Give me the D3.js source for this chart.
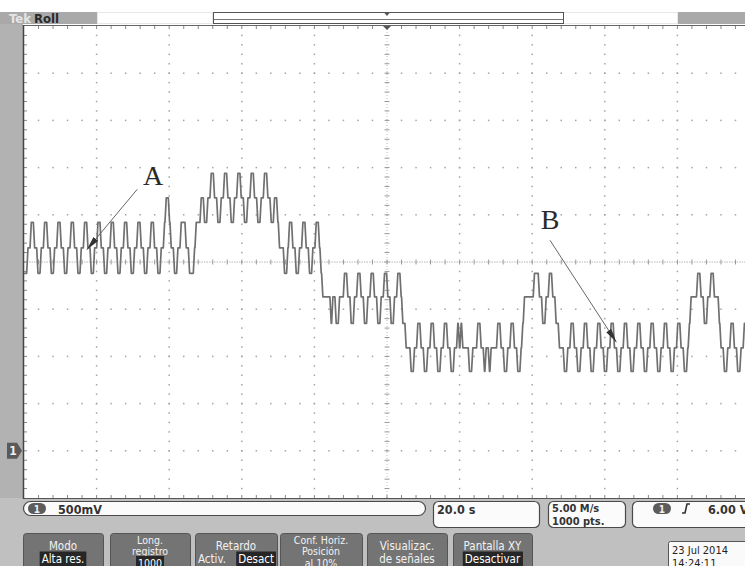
<!DOCTYPE html>
<html><head><meta charset="utf-8">
<script src="https://cdn.jsdelivr.net/npm/d3@7"></script>
<style>body{margin:0;background:#fff;}svg{display:block}</style>
</head><body>
<svg id="scope" width="745" height="566"></svg>
<script>
// ---- acquisition settings ----
const voltsPerDiv = 0.5;
const secondsPerDiv = 20;
const hDivs = 10, vDivs = 10;
const groundDiv = 1;              // channel 1 ground marker, divisions above bottom

// ---- channel 1 output levels (V) ----
const levelVolts = [0.84, 1.09, 1.35, 1.63, 1.88, 2.15, 2.42, 2.68, 2.94];

// ---- trace: level index per slot, 8 slots per carrier period ----
const slotSeconds = 0.459;
const traceGroups = [
  "44556655","44556655","44556655","44556655","44556655",
  "44556655","44556655","44556655","44556655","44556655",
  "44556776","55445566","65544456","66776677",
  "88776677","88776677","88776677","88776677","88776677",
  "65554456","65544556","65544556","65433333",
  "23322333","44332233","44332233","44332233","44332233",
  "44322111","00112211","00112211","00112211","00112121",
  "11100111","22110110","11112211","00112211","00123333",
  "33444332","23344332","21110011",
  "22110011","22110011","22110011","22110011","22110011",
  "22110011","22110011","22110011","22110012",
  "33334433","22334433","32110011","22110011","22"
];

// ---- annotations (time s, volts) ----
const notes = [
  {label: "A", lt: 35.6, lv: 2.92, t0: 31.2, v0: 2.77, t1: 17.3, v1: 2.13},
  {label: "B", lt: 144.9, lv: 2.45, t0: 144.9, v0: 2.23, t1: 163.2, v1: 1.15}
];

// ---- readouts and menu ----
const scaleText = "500mV";
const timeText = "20.0 s";
const rateText = ["5.00 M/s", "1000 pts."];
const trigText = "6.00 V";
const menuButtons = [
  {x0: 23, x1: 103, lines: ["Modo"], hi: "Alta res."},
  {x0: 110, x1: 190, lines: ["Long.", "registro"], hi: "1000"},
  {x0: 195, x1: 277, lines: ["Retardo"], pre: "Activ.", hi: "Desact"},
  {x0: 280, x1: 362, lines: ["Conf. Horiz.", "Posición", "al 10%"]},
  {x0: 367, x1: 447, lines: ["Visualizac.", "de señales"]},
  {x0: 453, x1: 532, lines: ["Pantalla XY"], hi: "Desactivar"}
];
const dateText = ["23 Jul  2014", "14:24:11"];

const svg = d3.select("#scope");
const plot = {left: 24, right: 750, top: 26, bottom: 498};
const x = d3.scaleLinear().domain([0, secondsPerDiv * hDivs]).range([plot.left, plot.right]);
const y = d3.scaleLinear()
  .domain([-groundDiv * voltsPerDiv, (vDivs - groundDiv) * voltsPerDiv])
  .range([plot.bottom, plot.top]);
const dx = (plot.right - plot.left) / hDivs, dy = (plot.bottom - plot.top) / vDivs;

const UI = "'DejaVu Sans Condensed','DejaVu Sans',sans-serif";

// ---- bezel ----
svg.append("rect").attr("width", 745).attr("height", 566).attr("fill", "#ffffff");
svg.append("rect").attr("x", 0).attr("y", 12).attr("width", 23).attr("height", 554).attr("fill", "#b2b2b2");
svg.append("rect").attr("x", 0).attr("y", plot.bottom).attr("width", 745).attr("height", 68).attr("fill", "#c0c0c0");

// top status bar
svg.append("rect").attr("x", 0).attr("y", 12).attr("width", 97).attr("height", 12).attr("fill", "#a9a9a9");
svg.append("rect").attr("x", 678).attr("y", 12).attr("width", 67).attr("height", 12).attr("fill", "#a9a9a9");
svg.append("rect").attr("x", 97.5).attr("y", 12.5).attr("width", 115).attr("height", 11)
  .attr("fill", "#fff").attr("stroke", "#cfcfcf").attr("stroke-dasharray", "1,1");
svg.append("rect").attr("x", 563.5).attr("y", 12.5).attr("width", 114).attr("height", 11)
  .attr("fill", "#fff").attr("stroke", "#cfcfcf").attr("stroke-dasharray", "1,1");
svg.append("rect").attr("x", 213.5).attr("y", 12.5).attr("width", 350).attr("height", 11)
  .attr("fill", "#fff").attr("stroke", "#555").attr("stroke-width", 1);
svg.append("line").attr("x1", 214).attr("x2", 563).attr("y1", 19.5).attr("y2", 19.5)
  .attr("stroke", "#777").attr("stroke-width", 1);
svg.append("path").attr("d", "M384.5,13 L389.5,13 L387,16 Z").attr("fill", "#555");
svg.append("text").attr("x", 9).attr("y", 22.5).attr("font-family", UI).attr("font-weight", "bold")
  .attr("font-size", 13).attr("fill", "#e6e6e6").text("Tek");
svg.append("text").attr("x", 34).attr("y", 22.5).attr("font-family", UI).attr("font-weight", "bold")
  .attr("font-size", 13).attr("fill", "#2a2a2a").text("Roll");

// ---- graticule ----
const g = svg.append("g");
g.append("rect").attr("x", plot.left).attr("y", plot.top).attr("width", 745 - plot.left)
  .attr("height", plot.bottom - plot.top).attr("fill", "#fff");

const dots = [];
for (let k = 1; k < hDivs; k++) {
  if (k === hDivs / 2) continue;
  for (let j = 1; j < vDivs * 5; j++) dots.push([plot.left + k * dx, plot.top + j * dy / 5]);
}
for (let k = 1; k < vDivs; k++) {
  if (k === vDivs / 2) continue;
  for (let j = 1; j < hDivs * 5; j++) dots.push([plot.left + j * dx / 5, plot.top + k * dy]);
}
g.selectAll("rect.dot").data(dots).join("rect").attr("class", "dot")
  .attr("x", d => d[0] - 0.75).attr("y", d => d[1] - 0.75).attr("width", 1.5).attr("height", 1.5)
  .attr("fill", "#a4a4a4");

// centre cross
const cx = plot.left + dx * hDivs / 2, cy = plot.top + dy * vDivs / 2;
g.append("line").attr("x1", plot.left).attr("x2", 745).attr("y1", cy).attr("y2", cy)
  .attr("stroke", "#b8b8b8").attr("stroke-dasharray", "1.5,1").attr("stroke-width", 1);
g.append("line").attr("x1", cx).attr("x2", cx).attr("y1", plot.top).attr("y2", plot.bottom)
  .attr("stroke", "#bdbdbd").attr("stroke-dasharray", "1,2").attr("stroke-width", 1);
const hT = d3.range(1, hDivs * 5).map(j => plot.left + j * dx / 5);
const vT = d3.range(1, vDivs * 5).map(j => plot.top + j * dy / 5);
g.selectAll("line.ht").data(hT).join("line").attr("class", "ht")
  .attr("x1", d => d).attr("x2", d => d).attr("y1", cy - 2.5).attr("y2", cy + 2.5).attr("stroke", "#9a9a9a");
g.selectAll("line.vt").data(vT).join("line").attr("class", "vt")
  .attr("y1", d => d).attr("y2", d => d).attr("x1", cx - 2.5).attr("x2", cx + 2.5).attr("stroke", "#9a9a9a");
// edge ticks
g.selectAll("line.tt").data(hT).join("line").attr("class", "tt")
  .attr("x1", d => d).attr("x2", d => d).attr("y1", plot.top).attr("y2", plot.top + 3).attr("stroke", "#888");
g.selectAll("line.bt").data(hT).join("line").attr("class", "bt")
  .attr("x1", d => d).attr("x2", d => d).attr("y1", plot.bottom - 3).attr("y2", plot.bottom).attr("stroke", "#888");
g.selectAll("line.lt").data(vT).join("line").attr("class", "lt")
  .attr("y1", d => d).attr("y2", d => d).attr("x1", plot.left).attr("x2", plot.left + 3).attr("stroke", "#888");
// frame
g.append("line").attr("x1", plot.left).attr("x2", 745).attr("y1", plot.top - 0.5).attr("y2", plot.top - 0.5).attr("stroke", "#666");
g.append("line").attr("x1", plot.left).attr("x2", 745).attr("y1", plot.bottom + 0.5).attr("y2", plot.bottom + 0.5).attr("stroke", "#555");
g.append("line").attr("x1", plot.left - 0.5).attr("x2", plot.left - 0.5).attr("y1", plot.top - 1).attr("y2", plot.bottom + 1).attr("stroke", "#444").attr("stroke-width", 1.5);
// trigger position marker
g.append("path").attr("d", `M${cx - 4},${plot.top} L${cx + 4},${plot.top} L${cx},${plot.top + 4} Z`).attr("fill", "#555");

// ---- trace ----
const levels = traceGroups.join("").split("").map(Number);
const ramp = 0.18;
const pts = [[0, levels[0]]];
for (let i = 1; i < levels.length; i++) {
  if (levels[i] !== levels[i - 1]) {
    const t = i * slotSeconds;
    pts.push([t - ramp, levels[i - 1]], [t + ramp, levels[i]]);
  }
}
pts.push([levels.length * slotSeconds, levels[levels.length - 1]]);
svg.append("clipPath").attr("id", "clip").append("rect")
  .attr("x", plot.left).attr("y", plot.top).attr("width", 745 - plot.left).attr("height", plot.bottom - plot.top);
svg.append("path").datum(pts).attr("clip-path", "url(#clip)")
  .attr("fill", "none").attr("stroke", "#707070").attr("stroke-width", 1.7).attr("stroke-linejoin", "round")
  .attr("d", d3.line().x(d => x(d[0])).y(d => y(levelVolts[d[1]])));

// ground marker
const gy = y(0);
svg.append("path").attr("d", `M7,${gy - 8} L17,${gy - 8} L22,${gy} L17,${gy + 8} L7,${gy + 8} Z`).attr("fill", "#5a5a5a");
svg.append("text").attr("x", 13).attr("y", gy + 4.5).attr("text-anchor", "middle").attr("font-family", UI)
  .attr("font-weight", "bold").attr("font-size", 12).attr("fill", "#f0f0f0").text("1");

// ---- annotations ----
const defs = svg.append("defs");
defs.append("marker").attr("id", "arrow").attr("viewBox", "0 0 14 6").attr("refX", 14).attr("refY", 3)
  .attr("markerWidth", 14).attr("markerHeight", 6).attr("markerUnits", "userSpaceOnUse").attr("orient", "auto")
  .append("path").attr("d", "M0,0 L14,3 L0,6 Z").attr("fill", "#333");
notes.forEach(n => {
  svg.append("line").attr("x1", x(n.t0)).attr("y1", y(n.v0)).attr("x2", x(n.t1)).attr("y2", y(n.v1))
    .attr("stroke", "#666").attr("stroke-width", 1).attr("marker-end", "url(#arrow)");
  svg.append("text").attr("x", x(n.lt)).attr("y", y(n.lv) + 9.5).attr("text-anchor", "middle")
    .attr("font-family", "'Liberation Serif','DejaVu Serif',serif").attr("font-size", 28)
    .attr("fill", "#2a2a2a").text(n.label);
});

// ---- readout row ----
function box(x0, y0, w, h, r) {
  svg.append("rect").attr("x", x0 + 0.5).attr("y", y0 + 0.5).attr("width", w).attr("height", h).attr("rx", r)
    .attr("fill", "#fbfbfb").attr("stroke", "#4a4a4a").attr("stroke-width", 1.2);
}
function badge(cxp, cyp) {
  svg.append("rect").attr("x", cxp - 9).attr("y", cyp - 5.5).attr("width", 18).attr("height", 11).attr("rx", 5.5).attr("fill", "#5c5c5c");
  svg.append("text").attr("x", cxp).attr("y", cyp + 4).attr("text-anchor", "middle").attr("font-family", UI)
    .attr("font-weight", "bold").attr("font-size", 10).attr("fill", "#eee").text("1");
}
function label(tx, ty, s, size, weight, fill, anchor) {
  return svg.append("text").attr("x", tx).attr("y", ty).attr("font-family", UI).attr("font-size", size || 12.5)
    .attr("font-weight", weight || "bold").attr("fill", fill || "#333").attr("text-anchor", anchor || "start").text(s);
}
box(23, 501, 402, 14, 7);
badge(37, 508.5);
label(58, 513.5, scaleText);
box(433, 501, 106, 26, 5);
label(437, 513.5, timeText);
box(548, 501, 77, 26, 5);
label(552, 512, rateText[0], 11);
label(552, 524.5, rateText[1], 11);
box(632, 501, 130, 26, 5);
badge(662, 508.5);
svg.append("path").attr("d", "M682,513 L685,513 L687,504 L690,504").attr("fill", "none").attr("stroke", "#333").attr("stroke-width", 1.6);
label(708, 513.5, trigText);

// ---- menu buttons ----
menuButtons.forEach(b => {
  const mid = (b.x0 + b.x1) / 2;
  svg.append("rect").attr("x", b.x0 + 0.5).attr("y", 533.5).attr("width", b.x1 - b.x0).attr("height", 40).attr("rx", 3)
    .attr("fill", "#747474").attr("stroke", "#555").attr("stroke-width", 1);
  const n = b.lines.length + (b.hi || b.pre ? 1 : 0);
  const fs = n >= 3 ? 10.5 : 11.5;
  const base = n >= 3 ? 543.5 : 550;
  const step = n >= 3 ? 11.5 : 13;
  b.lines.forEach((s, i) => label(mid, base + i * step, s, fs, "normal", "#f2f2f2", "middle"));
  if (b.hi) {
    const yy = base + b.lines.length * step;
    let t;
    if (b.pre) {
      label(b.x0 + 3, yy, b.pre, fs, "normal", "#f2f2f2", "start");
      t = label(b.x1 - 3, yy, b.hi, fs, "normal", "#ffffff", "end");
    } else {
      t = label(mid, yy, b.hi, fs, "normal", "#ffffff", "middle");
    }
    const bb = t.node().getBBox();
    svg.insert("rect", () => t.node()).attr("x", bb.x - 2).attr("y", bb.y - 0.5)
      .attr("width", bb.width + 4).attr("height", bb.height + 2).attr("fill", "#262626");
  }
});

// date box
svg.append("rect").attr("x", 668.5).attr("y", 541.5).attr("width", 90).attr("height", 30).attr("rx", 2)
  .attr("fill", "#fafafa").attr("stroke", "#555");
label(672, 554, dateText[0], 11, "normal", "#222");
label(672, 566.5, dateText[1], 11, "normal", "#222");
</script>
</body></html>
